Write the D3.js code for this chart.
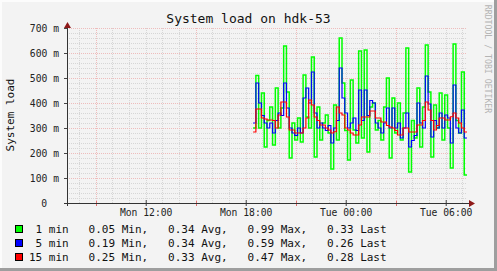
<!DOCTYPE html>
<html>
<head>
<meta charset="utf-8">
<script src="https://cdn.jsdelivr.net/npm/d3@7"></script>
<style>
  body { margin: 0; background: #f3f3f3; }
  svg { display: block; font-family: "DejaVu Sans Mono", monospace; }
</style>
</head>
<body>
<svg width="497" height="271"></svg>
<script>
// load values in milli (m), one value every 10 minutes
var green = [300, 510, 300, 440, 224, 330, 384, 232, 460, 300, 380, 628, 444, 180, 320, 252,
  340, 244, 512, 344, 300, 584, 184, 384, 252, 320, 352, 280, 136, 392, 252, 660,
  480, 290, 172, 492, 292, 240, 608, 260, 612, 204, 384, 400, 292, 330, 252, 384,
  500, 180, 420, 280, 400, 252, 360, 620, 124, 330, 260, 460, 224, 384, 632, 444,
  184, 392, 300, 440, 252, 432, 300, 140, 636, 330, 280, 524, 112];
var blue = [320, 480, 400, 350, 320, 300, 320, 280, 330, 360, 350, 480, 380, 300, 280, 270,
  300, 280, 420, 460, 400, 524, 360, 300, 320, 300, 290, 310, 240, 300, 330, 540,
  420, 360, 300, 320, 340, 290, 452, 330, 452, 350, 410, 400, 320, 300, 280, 320,
  380, 300, 380, 300, 320, 260, 300, 360, 224, 250, 270, 400, 320, 300, 508, 396,
  264, 330, 300, 360, 300, 352, 340, 240, 472, 300, 280, 372, 260];
var red = [284, 376, 376, 340, 336, 332, 332, 330, 300, 352, 404, 404, 344, 292, 292, 280,
  280, 280, 300, 340, 412, 392, 344, 330, 312, 312, 300, 292, 280, 285, 384, 360,
  352, 300, 292, 280, 272, 272, 312, 344, 344, 344, 368, 368, 340, 340, 324, 324,
  310, 304, 300, 290, 272, 272, 300, 300, 284, 284, 284, 312, 312, 330, 404, 372,
  330, 292, 310, 340, 340, 332, 332, 345, 360, 340, 320, 300, 284];

var seriesNames = [" 1 min", " 5 min", "15 min"];
var seriesColors = ["#00ff00", "#0000ff", "#ff0000"];
var statMin = ["0.05", "0.19", "0.25"];
var statAvg = ["0.34", "0.34", "0.33"];
var statMax = ["0.99", "0.59", "0.47"];
var statLast = ["0.33", "0.26", "0.28"];

var yTicks = [0, 100, 200, 300, 400, 500, 600, 700];
var viewStart = new Date(Date.UTC(2012, 0, 2, 7, 16, 40));
var viewEnd = new Date(Date.UTC(2012, 0, 3, 7, 16, 40));
var dataStart = new Date(Date.UTC(2012, 0, 2, 18, 26, 40));
var stepMin = 10;

var svg = d3.select("svg");
var plotL = 67, plotR = 467, plotT = 28, plotB = 203;

var x = d3.scaleUtc().domain([viewStart, viewEnd]).range([plotL, plotR]);
var y = d3.scaleLinear().domain([0, 700]).range([plotB, plotT]);

// background + frame
svg.append("rect").attr("width", 497).attr("height", 271).attr("fill", "#f3f3f3");
svg.append("rect").attr("x", 0).attr("y", 0).attr("width", 497).attr("height", 2).attr("fill", "#fcfcfc");
svg.append("rect").attr("x", 0).attr("y", 0).attr("width", 2).attr("height", 271).attr("fill", "#fcfcfc");
svg.append("rect").attr("x", 0).attr("y", 268).attr("width", 497).attr("height", 3).attr("fill", "#9e9e9e");
svg.append("rect").attr("x", 494).attr("y", 0).attr("width", 3).attr("height", 271).attr("fill", "#9e9e9e");

// grid
var hours = d3.utcHour.range(viewStart, viewEnd);
var gridV = svg.append("g").attr("shape-rendering", "crispEdges");
gridV.selectAll("line").data(hours).enter().append("line")
  .attr("x1", function(d) { return Math.round(x(d)) + 0.5; })
  .attr("x2", function(d) { return Math.round(x(d)) + 0.5; })
  .attr("y1", plotT).attr("y2", plotB)
  .attr("stroke", function(d) { return d.getUTCHours() % 6 == 3 ? "#eebcbc" : "#d6d6d6"; })
  .attr("stroke-dasharray", "1,1");

var minorY = d3.range(0, 701, 20);
var gridH = svg.append("g").attr("shape-rendering", "crispEdges");
gridH.selectAll("line").data(minorY).enter().append("line")
  .attr("x1", plotL).attr("x2", plotR)
  .attr("y1", function(d) { return Math.round(y(d)) + 0.5; })
  .attr("y2", function(d) { return Math.round(y(d)) + 0.5; })
  .attr("stroke", function(d) { return d % 100 == 0 ? "#eebcbc" : "#d6d6d6"; })
  .attr("stroke-dasharray", "1,1");

// series
function points(vals) {
  var pts = vals.map(function(v, i) {
    return [d3.utcMinute.offset(dataStart, i * stepMin), v];
  });
  pts.push([d3.utcMinute.offset(dataStart, vals.length * stepMin), vals[vals.length - 1]]);
  return pts;
}
var line = d3.line()
  .x(function(d) { return x(d[0]); })
  .y(function(d) { return y(d[1]); })
  .curve(d3.curveStepAfter);

var widths = [1.5, 1.2, 1.2];
[green, blue, red].forEach(function(vals, k) {
  svg.append("path")
    .attr("d", line(points(vals)))
    .attr("fill", "none")
    .attr("stroke", seriesColors[k])
    .attr("stroke-width", widths[k]);
});

// axes
var yAxis = svg.append("g").attr("transform", "translate(" + plotL + ",0)")
  .call(d3.axisLeft(y).tickValues(yTicks).tickSize(3).tickPadding(4)
    .tickFormat(function(d) { return d == 0 ? "0" : d + " m"; }));
yAxis.select(".domain").remove();
yAxis.selectAll("line").attr("stroke", "#444");
yAxis.selectAll("text").attr("font-size", "9.7px").attr("fill", "#222")
  .attr("font-family", "DejaVu Sans Mono")
  .attr("dy", "0.35em")
  .attr("x", function(d) { return d == 0 ? -20 : -8; });

var labelTimes = hours.filter(function(d) { return d.getUTCHours() % 6 == 0; });
var xAxis = svg.append("g").attr("transform", "translate(0," + plotB + ")")
  .call(d3.axisBottom(x).tickValues(labelTimes).tickSize(3).tickFormat(d3.utcFormat("%a %H:%M")));
xAxis.select(".domain").remove();
xAxis.selectAll("line").attr("stroke", "#444").attr("y1", -3);
xAxis.selectAll("text").attr("font-size", "9.7px").attr("fill", "#222")
  .attr("font-family", "DejaVu Sans Mono")
  .attr("y", 13).attr("dy", 0);

var majTimes = hours.filter(function(d) { return d.getUTCHours() % 6 == 3; });
svg.append("g").selectAll("line").data(majTimes).enter().append("line")
  .attr("x1", function(d) { return Math.round(x(d)) + 0.5; })
  .attr("x2", function(d) { return Math.round(x(d)) + 0.5; })
  .attr("y1", plotB - 2).attr("y2", plotB + 3)
  .attr("stroke", "#e07070");

svg.append("line").attr("x1", plotL - 3).attr("x2", 470).attr("y1", plotB + 0.5).attr("y2", plotB + 0.5)
  .attr("stroke", "#333");
svg.append("line").attr("x1", plotL + 0.5).attr("x2", plotL + 0.5).attr("y1", plotB + 3).attr("y2", 25)
  .attr("stroke", "#333");
svg.append("path").attr("d", "M469,200 L475,203.5 L469,207 Z").attr("fill", "#8e1a1a");
svg.append("path").attr("d", "M64,28 L67.5,22 L71,28 Z").attr("fill", "#8e1a1a");

// title, labels, watermark
svg.append("text").attr("x", 248.5).attr("y", 23).attr("text-anchor", "middle")
  .attr("font-size", "13px").attr("fill", "#111").text("System load on hdk-53");
svg.append("text").attr("transform", "translate(13.5,115) rotate(-90)")
  .attr("text-anchor", "middle").attr("font-size", "11px").attr("fill", "#111").text("System load");
svg.append("text").attr("transform", "translate(484.5,59) rotate(90)")
  .attr("text-anchor", "middle").attr("font-size", "8.2px").attr("fill", "#b4b4b4")
  .text("RRDTOOL / TOBI OETIKER");

// legend
var legend = svg.append("g");
seriesNames.forEach(function(name, k) {
  var by = 233 + k * 14;
  legend.append("rect").attr("x", 15.5).attr("y", by - 7.5).attr("width", 7).attr("height", 7)
    .attr("fill", seriesColors[k]).attr("stroke", "#000").attr("shape-rendering", "crispEdges");
  legend.append("text").attr("x", 29).attr("y", by).attr("font-size", "11px").attr("fill", "#111")
    .attr("xml:space", "preserve").style("white-space", "pre")
    .text(name + "   " + statMin[k] + " Min,   " + statAvg[k] + " Avg,   " +
      statMax[k] + " Max,   " + statLast[k] + " Last");
});
</script>
</body>
</html>
